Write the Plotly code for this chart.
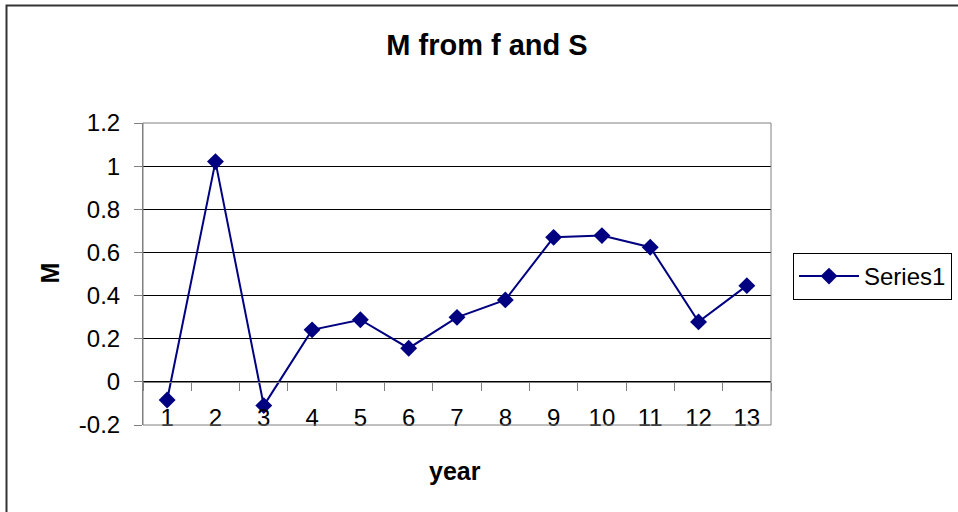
import plotly.graph_objects as go

years = ["1", "2", "3", "4", "5", "6", "7", "8", "9", "10", "11", "12", "13"]
m_values = [-0.084, 1.021, -0.110, 0.241, 0.288, 0.156, 0.299, 0.380, 0.670, 0.678, 0.624, 0.278, 0.446]
y_tick_vals = [-0.2, 0, 0.2, 0.4, 0.6, 0.8, 1.0, 1.2]
y_tick_text = ["-0.2", "0", "0.2", "0.4", "0.6", "0.8", "1", "1.2"]

FONT = "Liberation Sans, Arial, sans-serif"
NAVY = "#000080"
GRAY = "#808080"

fig = go.Figure()
fig.add_trace(go.Scatter(
    x=years, y=m_values, name="Series1", mode="lines+markers",
    line=dict(color=NAVY, width=2),
    marker=dict(symbol="diamond", size=13, color=NAVY),
))

L, R, T, B = 143, 187, 123, 87
W, H = 958, 512
pw, ph = W - L - R, H - T - B

def px_x(p):
    return (p - L) / pw

def px_y(p):
    return (H - B - p) / ph

fig.update_layout(
    width=W, height=H,
    margin=dict(l=L, r=R, t=T, b=B, autoexpand=False),
    paper_bgcolor="white", plot_bgcolor="white",
    font=dict(family=FONT, color="black", size=24),
    title=dict(text="<b>M from f and S</b>", x=487 / W, xanchor="center",
               y=1 - 45 / H, yanchor="middle",
               font=dict(family=FONT, size=29, color="black")),
    showlegend=True,
    legend=dict(x=px_x(793), y=px_y(253), xanchor="left", yanchor="top",
                bordercolor="black", borderwidth=1, bgcolor="white",
                itemwidth=60,
                font=dict(family=FONT, size=24, color="black")),
    xaxis=dict(type="category", range=[-0.5, 12.5], anchor="free", position=1 / 7,
               showgrid=False, zeroline=False, showline=True, linecolor=GRAY, linewidth=1,
               ticks="outside", tickson="boundaries", ticklen=8, tickcolor=GRAY,
               ticklabelstandoff=14, tickfont=dict(size=24, family=FONT)),
    yaxis=dict(range=[-0.2, 1.2], tickvals=y_tick_vals, ticktext=y_tick_text,
               showgrid=True, gridcolor="black", gridwidth=1, zeroline=False,
               showline=True, linecolor=GRAY, linewidth=1,
               ticks="outside", ticklen=8, tickcolor=GRAY, ticklabelstandoff=9,
               tickfont=dict(size=24, family=FONT)),
    shapes=[
        dict(type="rect", xref="paper", yref="paper", x0=0, x1=1, y0=0, y1=1,
             line=dict(color=GRAY, width=1), layer="above"),
        dict(type="rect", xref="paper", yref="paper",
             x0=px_x(6.5), x1=px_x(970), y0=px_y(530), y1=px_y(5.5),
             line=dict(color="#333333", width=2), layer="above"),
    ],
    annotations=[
        dict(text="<b>M</b>", xref="paper", yref="paper", x=px_x(49), y=px_y(273.5),
             textangle=-90, showarrow=False, xanchor="center", yanchor="middle",
             font=dict(family=FONT, size=25, color="black")),
        dict(text="<b>year</b>", xref="paper", yref="paper", x=px_x(455), y=px_y(471),
             showarrow=False, xanchor="center", yanchor="middle",
             font=dict(family=FONT, size=25, color="black")),
    ],
)

fig.write_html("out.html", config={"displayModeBar": False},
               post_script="document.body.style.margin='0';")
